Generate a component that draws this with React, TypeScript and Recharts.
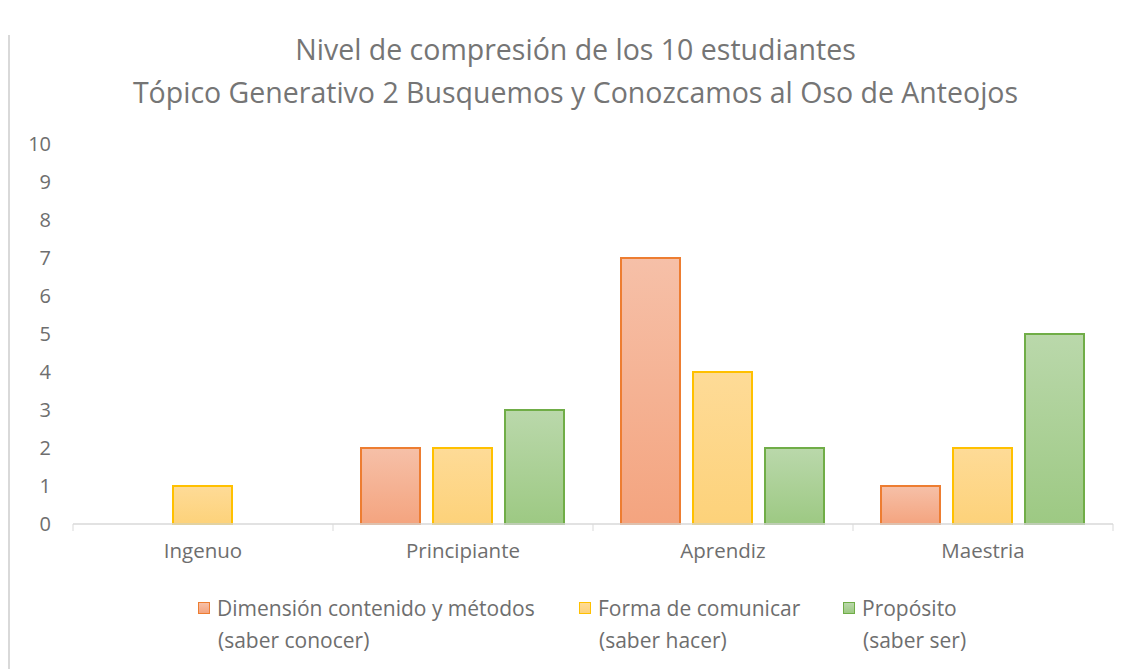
import { BarChart, Bar, XAxis, YAxis } from 'recharts'

const niveles = ['Ingenuo', 'Principiante', 'Aprendiz', 'Maestria']
const contenido = [0, 2, 7, 1]
const comunicar = [1, 2, 4, 2]
const proposito = [0, 3, 2, 5]
const yTicks = [0, 1, 2, 3, 4, 5, 6, 7, 8, 9, 10]

const data = niveles.map((nivel, i) => ({
  nivel,
  contenido: contenido[i],
  comunicar: comunicar[i],
  proposito: proposito[i],
}))

const series = [
  { key: 'contenido', stroke: '#ED7D31', top: '#F6C0A8', bottom: '#F4A47F', label: 'Dimensión contenido y métodos', sub: '(saber conocer)', left: 190 },
  { key: 'comunicar', stroke: '#FFC000', top: '#FEDB97', bottom: '#FDD27A', label: 'Forma de comunicar', sub: '(saber hacer)', left: 571 },
  { key: 'proposito', stroke: '#70AD47', top: '#BAD8AB', bottom: '#9DC983', label: 'Propósito', sub: '(saber ser)', left: 835 },
]

const FONT = '"Open Sans", "Noto Sans", sans-serif'
const TEXT = '#6E6E6E'

function CategoryTick(props: any) {
  const { x, y, payload, width, visibleTicksCount, index } = props
  const band = width / visibleTicksCount
  const left = x - band / 2
  const right = x + band / 2
  return (
    <g>
      <line x1={left} y1={y - 19} x2={left} y2={y - 12} stroke="#D9D9D9" strokeWidth={1} />
      {index === visibleTicksCount - 1 && (
        <line x1={right} y1={y - 19} x2={right} y2={y - 12} stroke="#D9D9D9" strokeWidth={1} />
      )}
      <text x={x} y={y} dy="0.71em" textAnchor="middle" fill={TEXT} fontSize={20.5} fontFamily={FONT}>
        {payload.value}
      </text>
    </g>
  )
}

export default function App() {
  return (
    <div style={{ position: 'relative', width: 1115, height: 661, fontFamily: FONT }}>
      <div style={{ position: 'absolute', left: 0, top: 27, width: 2, height: 634, background: '#D9D9D9' }} />
      <div
        style={{
          position: 'absolute', left: 0, top: 20, width: 1135, textAlign: 'center',
          color: '#757575', fontSize: 28.5, lineHeight: '43px',
        }}
      >
        Nivel de compresión de los 10 estudiantes
        <br />
        Tópico Generativo 2 Busquemos y Conozcamos al Oso de Anteojos
      </div>
      <div style={{ position: 'absolute', left: 0, top: 0 }}>
        <BarChart
          width={1115}
          height={600}
          data={data}
          margin={{ top: 136, right: 10, bottom: 44, left: 5 }}
          barGap={13}
          barCategoryGap={28}
        >
          <defs>
            {series.map((s) => (
              <linearGradient key={s.key} id={`grad-${s.key}`} x1="0" y1="0" x2="0" y2="1">
                <stop offset="0%" stopColor={s.top} />
                <stop offset="100%" stopColor={s.bottom} />
              </linearGradient>
            ))}
          </defs>
          <XAxis
            dataKey="nivel"
            height={40}
            axisLine={{ stroke: '#D9D9D9', strokeWidth: 1.5 }}
            tickLine={false}
            tickSize={0}
            tickMargin={19}
            tick={<CategoryTick />}
            interval={0}
          />
          <YAxis
            width={60}
            domain={[0, 10]}
            ticks={yTicks}
            axisLine={false}
            tickLine={false}
            tickSize={0}
            tickMargin={22}
            tick={{ fill: TEXT, fontSize: 20, fontFamily: FONT }}
          />
          {series.map((s) => (
            <Bar
              key={s.key}
              dataKey={s.key}
              fill={`url(#grad-${s.key})`}
              stroke={s.stroke}
              strokeWidth={2}
              isAnimationActive={false}
            />
          ))}
        </BarChart>
      </div>
      {series.map((s) => (
        <div
          key={s.key}
          style={{ position: 'absolute', left: s.left, top: 584, color: TEXT, fontSize: 21, lineHeight: '32px' }}
        >
          <div style={{ display: 'flex', alignItems: 'center' }}>
            <span
              style={{
                display: 'inline-block', width: 10, height: 10, marginRight: 7,
                border: `1.5px solid ${s.stroke}`,
                background: `linear-gradient(${s.top}, ${s.bottom})`,
              }}
            />
            {s.label}
          </div>
          <div style={{ paddingLeft: 20 }}>{s.sub}</div>
        </div>
      ))}
    </div>
  )
}
